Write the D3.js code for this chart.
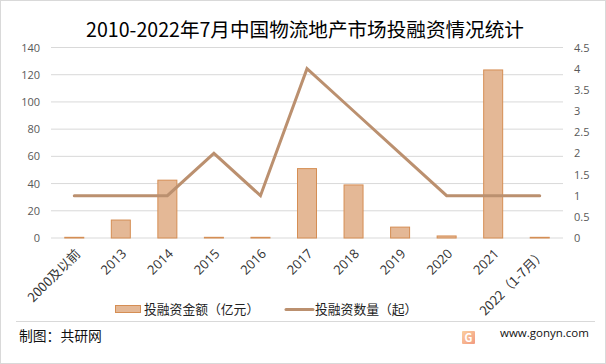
<!DOCTYPE html>
<html>
<head>
<meta charset="utf-8">
<script src="https://cdn.jsdelivr.net/npm/d3@7"></script>
<style>
  html, body { margin: 0; padding: 0; background: #fff; }
  svg { display: block; }
  text { font-family: "Noto Sans CJK SC", "Noto Sans", sans-serif; }
  .num { font-family: "Open Sans", "Noto Sans", sans-serif; }
</style>
</head>
<body>
<div id="vis"></div>
<script>
const categories = ["2000及以前", "2013", "2014", "2015", "2016", "2017", "2018", "2019", "2020", "2021", "2022（1-7月）"];
const amounts = [0.5, 13.2, 42.5, 0.5, 0.5, 51, 39, 8, 1.5, 123.5, 0.5];
const counts = [1, 1, 1, 2, 1, 4, 3, 2, 1, 1, 1];
const leftTicks = [0, 20, 40, 60, 80, 100, 120, 140];
const rightTicks = [0, 0.5, 1, 1.5, 2, 2.5, 3, 3.5, 4, 4.5];

const width = 606;
const height = 364;
const margin = { top: 47.5, right: 43, bottom: 126, left: 51 };

const svg = d3.select("#vis")
  .append("svg")
  .attr("width", width)
  .attr("height", height);

// outer frame
svg.append("rect")
  .attr("x", 0.5)
  .attr("y", 0.5)
  .attr("width", width - 1)
  .attr("height", height - 1)
  .attr("fill", "#fff")
  .attr("stroke", "#d9d9d9");

const x = d3.scaleBand()
  .domain(categories)
  .range([margin.left, width - margin.right]);

const yLeft = d3.scaleLinear()
  .domain([0, 140])
  .range([height - margin.bottom, margin.top]);

const yRight = d3.scaleLinear()
  .domain([0, 4.5])
  .range([height - margin.bottom, margin.top]);

// title
svg.append("text")
  .attr("x", 305)
  .attr("y", 37)
  .attr("text-anchor", "middle")
  .attr("font-size", "19.6px")
  .attr("fill", "#000")
  .text("2010-2022年7月中国物流地产市场投融资情况统计");

// grid
svg.append("g")
  .selectAll("line")
  .data(leftTicks)
  .join("line")
  .attr("x1", margin.left)
  .attr("x2", width - margin.right)
  .attr("y1", d => yLeft(d))
  .attr("y2", d => yLeft(d))
  .attr("stroke", "#d9d9d9")
  .attr("stroke-width", 1);

// left axis labels
const leftAxis = svg.append("g")
  .attr("transform", `translate(${margin.left},0)`)
  .call(d3.axisLeft(yLeft).tickValues(leftTicks).tickSize(0).tickPadding(11));
leftAxis.select(".domain").remove();
leftAxis.selectAll("text")
  .attr("class", "num")
  .attr("font-size", "11px")
  .attr("fill", "#595959");

// right axis labels
const rightAxis = svg.append("g")
  .attr("transform", `translate(${width - margin.right},0)`)
  .call(d3.axisRight(yRight).tickValues(rightTicks).tickFormat(d => d).tickSize(0).tickPadding(11));
rightAxis.select(".domain").remove();
rightAxis.selectAll("text")
  .attr("class", "num")
  .attr("font-size", "11px")
  .attr("fill", "#595959");

// bars
const barWidth = 19;
svg.append("g")
  .selectAll("rect")
  .data(amounts)
  .join("rect")
  .attr("x", (d, i) => x(categories[i]) + x.bandwidth() / 2 - barWidth / 2)
  .attr("y", d => yLeft(d))
  .attr("width", barWidth)
  .attr("height", d => yLeft(0) - yLeft(d))
  .attr("fill", "#e4b896")
  .attr("stroke", "#d58e54")
  .attr("stroke-width", 1);

// line
const line = d3.line()
  .x((d, i) => x(categories[i]) + x.bandwidth() / 2)
  .y(d => yRight(d));

svg.append("path")
  .datum(counts)
  .attr("fill", "none")
  .attr("stroke", "#bb906f")
  .attr("stroke-width", 3)
  .attr("stroke-linecap", "round")
  .attr("stroke-linejoin", "miter")
  .attr("d", line);

// x labels, rotated 45deg and ending under the tick
svg.append("g")
  .selectAll("text")
  .data(categories)
  .join("text")
  .attr("class", (d, i) => i === 0 || i === 10 ? "" : "num")
  .attr("transform", d => `translate(${x(d) + x.bandwidth() / 2 + 3},251) rotate(-45)`)
  .attr("text-anchor", "end")
  .attr("dominant-baseline", "central")
  .attr("font-size", (d, i) => i === 0 || i === 10 ? "13px" : "13px")
  .attr("fill", "#333")
  .text(d => d);

// legend
svg.append("rect")
  .attr("x", 115.5)
  .attr("y", 305.5)
  .attr("width", 25)
  .attr("height", 7)
  .attr("fill", "#e4b896")
  .attr("stroke", "#d58e54");

svg.append("text")
  .attr("x", 144)
  .attr("y", 314)
  .attr("font-size", "12.8px")
  .attr("fill", "#222")
  .text("投融资金额（亿元）");

svg.append("line")
  .attr("x1", 286)
  .attr("x2", 313)
  .attr("y1", 309.5)
  .attr("y2", 309.5)
  .attr("stroke", "#bb906f")
  .attr("stroke-width", 3)
  .attr("stroke-linecap", "round");

svg.append("text")
  .attr("x", 315)
  .attr("y", 314)
  .attr("font-size", "12.8px")
  .attr("fill", "#222")
  .text("投融资数量（起）");

// footer
svg.append("line")
  .attr("x1", 16)
  .attr("x2", 595)
  .attr("y1", 321.5)
  .attr("y2", 321.5)
  .attr("stroke", "#d9d9d9");

svg.append("text")
  .attr("x", 19)
  .attr("y", 341)
  .attr("font-size", "13.8px")
  .attr("fill", "#111")
  .text("制图：共研网");

// logo
const logoGrad = svg.append("defs")
  .append("linearGradient")
  .attr("id", "logoGrad")
  .attr("x1", 0)
  .attr("x2", 1)
  .attr("y1", 0)
  .attr("y2", 1);
logoGrad.append("stop").attr("offset", "0%").attr("stop-color", "#fbcf9f");
logoGrad.append("stop").attr("offset", "100%").attr("stop-color", "#f29a80");

svg.append("rect")
  .attr("x", 462)
  .attr("y", 331)
  .attr("width", 13)
  .attr("height", 13)
  .attr("rx", 1)
  .attr("fill", "url(#logoGrad)");

svg.append("text")
  .attr("x", 468.5)
  .attr("y", 342)
  .attr("text-anchor", "middle")
  .attr("font-size", "11px")
  .attr("font-weight", "bold")
  .attr("fill", "#fff")
  .text("G");

svg.append("text")
  .attr("class", "num")
  .attr("x", 500)
  .attr("y", 337)
  .attr("font-size", "11.5px")
  .attr("fill", "#111")
  .text("www.gonyn.com");
</script>
</body>
</html>
